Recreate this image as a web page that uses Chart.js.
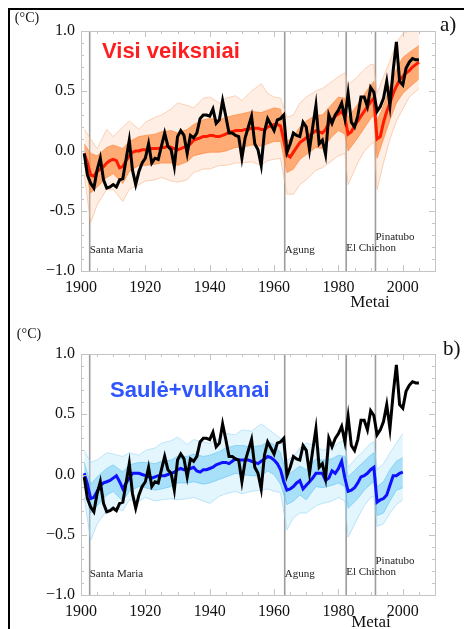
<!DOCTYPE html>
<html>
<head>
<meta charset="utf-8">
<script src="https://cdn.jsdelivr.net/npm/chart.js@4/dist/chart.umd.min.js"></script>
<style>
  body { margin: 0; background: #fff; }
  #frame { position: absolute; left: 8px; top: 8px; width: 456px; height: 621px;
           border-top: 2px solid #000; border-left: 2px solid #000; }
  canvas { position: absolute; left: 0; }
</style>
</head>
<body>
<div id="frame"></div>
<canvas id="chartA" width="464" height="310" style="top:0"></canvas>
<canvas id="chartB" width="464" height="307" style="top:322px"></canvas>
<script>
// years of the annual series
const years = [];
for (let yr = 1901; yr <= 2005; yr++) years.push(yr);
const yearsNat = years.filter(yr => yr <= 2000);

// observed anomaly (black), same in both panels
const observed = [
  -0.02, -0.20, -0.27, -0.31, -0.16, -0.06, -0.24, -0.31, -0.30, -0.28,
  -0.30, -0.24, -0.23, -0.07, 0.09, -0.16, -0.28, -0.17, -0.10, -0.06,
  0.06, -0.10, -0.06, -0.07, 0.04, 0.15, 0.04, 0.01, -0.13, 0.12,
  0.17, 0.13, -0.02, 0.13, 0.11, 0.15, 0.27, 0.30, 0.30, 0.29,
  0.35, 0.23, 0.26, 0.42, 0.29, 0.15, 0.15, 0.13, 0.12, -0.06,
  0.11, 0.20, 0.29, 0.06, 0.01, -0.12, 0.16, 0.27, 0.22, 0.17,
  0.26, 0.27, 0.30, -0.01, 0.06, 0.15, 0.13, 0.12, 0.24, 0.20,
  0.01, 0.20, 0.38, 0.06, 0.09, -0.03, 0.30, 0.23, 0.30, 0.34,
  0.40, 0.27, 0.48, 0.24, 0.20, 0.29, 0.45, 0.45, 0.37, 0.53,
  0.49, 0.33, 0.37, 0.44, 0.58, 0.38, 0.67, 0.91, 0.58, 0.55,
  0.69, 0.74, 0.77, 0.76, 0.76
];

// ensemble mean, all forcings (red)
const meanAll = [
  -0.02, -0.10, -0.20, -0.21, -0.17, -0.15, -0.13, -0.10, -0.08, -0.07,
  -0.08, -0.14, -0.13, -0.08, -0.04, -0.01, 0.00, 0.00, 0.01, 0.01,
  0.01, 0.02, 0.02, 0.02, 0.03, 0.03, 0.04, 0.03, 0.02, 0.01,
  0.02, 0.03, 0.04, 0.06, 0.09, 0.10, 0.11, 0.12, 0.12, 0.13,
  0.13, 0.12, 0.12, 0.13, 0.14, 0.16, 0.16, 0.17, 0.17, 0.17,
  0.18, 0.18, 0.19, 0.19, 0.19, 0.18, 0.18, 0.20, 0.21, 0.22,
  0.22, 0.21, 0.09, -0.03, -0.05, -0.01, 0.03, 0.07, 0.09, 0.11,
  0.13, 0.15, 0.17, 0.16, 0.15, 0.18, 0.23, 0.26, 0.29, 0.31,
  0.33, 0.28, 0.14, 0.16, 0.21, 0.25, 0.29, 0.33, 0.37, 0.41,
  0.44, 0.10, 0.12, 0.24, 0.33, 0.40, 0.48, 0.54, 0.59, 0.62,
  0.65, 0.67, 0.70, 0.72, 0.74
];

// ensemble mean, sun + volcanoes only (blue), 1901-2000
const meanNat = [
  0.01, -0.08, -0.20, -0.19, -0.14, -0.09, -0.07, -0.06, -0.05, -0.03,
  -0.01, -0.06, -0.12, -0.07, -0.03, 0.01, 0.01, 0.01, 0.00, -0.01,
  -0.02, -0.03, -0.02, -0.01, -0.01, -0.01, 0.00, 0.01, 0.02, 0.04,
  0.05, 0.04, 0.04, 0.05, 0.06, 0.03, 0.02, 0.04, 0.04, 0.05,
  0.06, 0.08, 0.09, 0.10, 0.10, 0.09, 0.11, 0.13, 0.12, 0.12,
  0.12, 0.12, 0.11, 0.10, 0.09, 0.11, 0.13, 0.15, 0.14, 0.12,
  0.09, 0.04, -0.06, -0.13, -0.12, -0.10, -0.07, -0.05, -0.12, -0.09,
  -0.06, -0.03, 0.01, 0.01, 0.01, -0.05, -0.03, 0.03, 0.01, 0.05,
  0.11, -0.03, -0.14, -0.13, -0.11, -0.07, -0.02, -0.01, 0.01, 0.04,
  0.06, -0.23, -0.21, -0.20, -0.17, -0.09, -0.01, -0.01, 0.01, 0.02
];

// spread of the individual runs, read at these years
const envYearsA = [1901, 1903, 1905, 1908, 1910, 1913, 1915, 1918, 1920, 1923, 1925, 1928, 1930, 1933, 1935, 1938,
  1940, 1943, 1945, 1948, 1950, 1953, 1956, 1958, 1960, 1962, 1964, 1966, 1968, 1970, 1973, 1975,
  1978, 1980, 1982, 1983, 1986, 1988, 1990, 1991, 1992, 1994, 1996, 1998, 2000, 2002, 2005];
const envYearsB = envYearsA.filter(yr => yr <= 2000);

const runsAllMax = [0.18, 0.10, 0.02, 0.18, 0.12, 0.20, 0.25, 0.18, 0.24, 0.28, 0.30, 0.35, 0.40, 0.38, 0.36, 0.44,
  0.45, 0.40, 0.44, 0.46, 0.42, 0.50, 0.56, 0.48, 0.45, 0.44, 0.28, 0.30, 0.40, 0.45, 0.50, 0.52,
  0.58, 0.62, 0.65, 0.55, 0.62, 0.68, 0.72, 0.72, 0.48, 0.62, 0.75, 0.90, 0.98, 1.00, 1.00];
const runsAllMin = [-0.20, -0.60, -0.45, -0.32, -0.32, -0.42, -0.32, -0.28, -0.25, -0.24, -0.22, -0.25, -0.26, -0.24, -0.18, -0.15,
  -0.15, -0.12, -0.12, -0.10, -0.10, -0.09, -0.12, -0.08, -0.07, -0.06, -0.36, -0.36, -0.28, -0.24, -0.16, -0.14,
  -0.08, -0.04, -0.02, -0.28, -0.10, 0.00, 0.05, 0.08, -0.32, -0.10, 0.10, 0.25, 0.35, 0.45, 0.52];
const runsAllHi = [0.06, -0.02, -0.04, 0.03, 0.05, 0.02, 0.08, 0.12, 0.13, 0.14, 0.16, 0.17, 0.15, 0.18, 0.22, 0.26,
  0.27, 0.26, 0.28, 0.30, 0.31, 0.33, 0.32, 0.34, 0.36, 0.35, 0.08, 0.12, 0.20, 0.25, 0.30, 0.30,
  0.39, 0.45, 0.44, 0.28, 0.39, 0.47, 0.55, 0.58, 0.25, 0.38, 0.54, 0.68, 0.78, 0.82, 0.88];
const runsAllLo = [-0.10, -0.35, -0.30, -0.22, -0.19, -0.27, -0.17, -0.12, -0.12, -0.11, -0.10, -0.10, -0.12, -0.09, -0.04, -0.02,
  -0.01, -0.01, 0.00, 0.03, 0.03, 0.05, 0.04, 0.06, 0.08, 0.08, -0.18, -0.15, -0.07, -0.03, 0.03, 0.02,
  0.12, 0.17, 0.14, 0.00, 0.11, 0.19, 0.27, 0.30, -0.06, 0.10, 0.26, 0.40, 0.48, 0.53, 0.60];

const runsNatMax = [0.20, 0.10, 0.12, 0.18, 0.17, 0.15, 0.18, 0.16, 0.20, 0.22, 0.26, 0.28, 0.31, 0.25, 0.29, 0.27,
  0.26, 0.30, 0.34, 0.33, 0.37, 0.36, 0.42, 0.38, 0.34, 0.30, 0.12, 0.15, 0.22, 0.26, 0.24, 0.20,
  0.22, 0.26, 0.29, 0.06, 0.15, 0.20, 0.26, 0.27, 0.04, 0.09, 0.18, 0.26, 0.34];
const runsNatMin = [-0.19, -0.55, -0.41, -0.30, -0.27, -0.30, -0.21, -0.22, -0.19, -0.22, -0.21, -0.20, -0.21, -0.20, -0.19, -0.22,
  -0.24, -0.18, -0.16, -0.14, -0.16, -0.14, -0.13, -0.12, -0.14, -0.15, -0.46, -0.36, -0.32, -0.32, -0.26, -0.24,
  -0.22, -0.19, -0.22, -0.52, -0.36, -0.26, -0.19, -0.18, -0.43, -0.41, -0.32, -0.25, -0.21];
const runsNatHi = [0.10, -0.08, -0.02, 0.05, 0.08, 0.02, 0.08, 0.10, 0.10, 0.09, 0.11, 0.12, 0.15, 0.15, 0.17, 0.15,
  0.16, 0.19, 0.22, 0.24, 0.24, 0.23, 0.24, 0.27, 0.25, 0.18, -0.01, 0.03, 0.07, 0.04, 0.13, 0.12,
  0.13, 0.16, 0.15, -0.02, 0.06, 0.11, 0.16, 0.18, -0.10, -0.06, 0.04, 0.11, 0.14];
const runsNatLo = [-0.09, -0.32, -0.26, -0.17, -0.14, -0.22, -0.14, -0.10, -0.11, -0.13, -0.12, -0.10, -0.07, -0.07, -0.06, -0.08,
  -0.07, -0.04, -0.02, 0.01, 0.00, -0.01, -0.01, 0.03, 0.00, -0.08, -0.25, -0.22, -0.17, -0.21, -0.10, -0.11,
  -0.09, -0.07, -0.10, -0.28, -0.20, -0.13, -0.08, -0.06, -0.34, -0.32, -0.22, -0.13, -0.11];

// eruptions
const volcanoNames = ['Santa Maria', 'Agung', 'El Chichon', 'Pinatubo'];
const volcanoYears = [1902.7, 1963.3, 1982.4, 1991.5];
const volcanoLabelY = [-0.83, -0.83, -0.81, -0.72];

// axes
const xTickValues = [1900, 1920, 1940, 1960, 1980, 2000];
const yTickValues = [-1, -0.5, 0, 0.5, 1];
const yTickLabelsA = ['\u22121.0', '-0.5', '0.0', '0.5', '1.0'];
const yTickLabelsB = ['\u22121.0', '\u22120.5', '0.0', '0.5', '1.0'];

const SERIF = "'Liberation Serif', 'DejaVu Serif', serif";
const SANS = "'Liberation Sans', Arial, sans-serif";
Chart.defaults.font.family = SERIF;
Chart.defaults.font.size = 16;
Chart.defaults.color = '#111';

function pts(xs, ys) {
  return xs.map((x, i) => ({ x: x, y: ys[i] }));
}

function line(ctx, x1, y1, x2, y2) {
  ctx.beginPath();
  ctx.moveTo(x1, y1);
  ctx.lineTo(x2, y2);
  ctx.stroke();
}

function decorPlugin(p) {
  return {
    id: 'decor',
    beforeDatasetsDraw(chart) {
      const { ctx, chartArea: a, scales: { x } } = chart;
      ctx.save();
      ctx.strokeStyle = '#9c9c9c';
      ctx.lineWidth = 1.6;
      volcanoYears.forEach(v => {
        const px = x.getPixelForValue(v);
        line(ctx, px, a.top, px, a.bottom);
      });
      ctx.restore();
    },
    afterDraw(chart) {
      const { ctx, chartArea: a, scales: { x, y } } = chart;
      ctx.save();

      // plot frame with inward ticks
      ctx.strokeStyle = '#c4c4c4';
      ctx.lineWidth = 1;
      ctx.strokeRect(a.left + 0.5, a.top + 0.5, a.right - a.left, a.bottom - a.top);
      for (let v = 1900; v <= 2010; v += 5) {
        const px = Math.round(x.getPixelForValue(v)) + 0.5;
        const len = v % 20 === 0 ? 6 : 3;
        line(ctx, px, a.bottom, px, a.bottom - len);
        line(ctx, px, a.top, px, a.top + len);
      }
      for (let i = -10; i <= 10; i++) {
        const py = Math.round(y.getPixelForValue(i / 10)) + 0.5;
        const len = i % 5 === 0 ? 6 : 3;
        line(ctx, a.left, py, a.left + len, py);
        line(ctx, a.right, py, a.right - len, py);
      }

      // volcano names
      ctx.fillStyle = '#222';
      ctx.font = '11px ' + SERIF;
      ctx.textAlign = 'left';
      ctx.textBaseline = 'middle';
      volcanoNames.forEach((n, i) => {
        ctx.fillText(n, x.getPixelForValue(volcanoYears[i]), y.getPixelForValue(volcanoLabelY[i]));
      });

      // panel title
      ctx.font = 'bold 22px ' + SANS;
      ctx.fillStyle = p.titleColor;
      ctx.fillText(p.title, p.titleX, p.titleY);

      // unit, panel letter, axis title
      ctx.fillStyle = '#111';
      ctx.font = '14px ' + SERIF;
      ctx.textAlign = 'center';
      ctx.fillText('(\u00b0C)', p.unitX, p.unitY);
      ctx.font = '21px ' + SERIF;
      ctx.textAlign = 'left';
      ctx.fillText(p.letter, p.letterX, p.letterY);
      ctx.font = '17px ' + SERIF;
      ctx.textAlign = 'center';
      ctx.fillText('Metai', p.metaiX, p.metaiY);
      ctx.restore();
    }
  };
}

function makeChart(id, p) {
  const edge = { borderWidth: 1, pointRadius: 0, tension: 0 };
  const datasets = [
    Object.assign({ data: pts(p.envYears, p.outerMax), borderColor: p.outerEdge, fill: false, order: 5 }, edge),
    Object.assign({ data: pts(p.envYears, p.outerMin), borderColor: p.outerEdge, backgroundColor: p.outerFill, fill: '-1', order: 4 }, edge),
    Object.assign({ data: pts(p.envYears, p.innerMax), borderColor: p.innerEdge, fill: false, order: 3 }, edge),
    Object.assign({ data: pts(p.envYears, p.innerMin), borderColor: p.innerEdge, backgroundColor: p.innerFill, fill: '-1', order: 2 }, edge),
    { data: pts(p.meanYears, p.mean), borderColor: p.meanColor, borderWidth: 3, pointRadius: 0, tension: 0, fill: false, order: 1 },
    { data: pts(years, observed), borderColor: '#000', borderWidth: 3, pointRadius: 0, tension: 0, fill: false, order: 0 }
  ];

  const tickFont = { family: SERIF, size: 16 };

  return new Chart(document.getElementById(id), {
    type: 'line',
    data: { datasets },
    options: {
      responsive: false,
      animation: false,
      devicePixelRatio: 1,
      layout: { autoPadding: false, padding: { top: p.padTop, right: 29, left: 0, bottom: 0 } },
      plugins: { legend: { display: false }, tooltip: { enabled: false } },
      scales: {
        x: {
          type: 'linear',
          min: 1900,
          max: 2010,
          grid: { display: false, drawTicks: false },
          border: { display: false },
          afterBuildTicks: s => { s.ticks = xTickValues.map(v => ({ value: v })); },
          afterFit: s => { s.height = p.xAxisHeight; },
          ticks: { color: '#111', padding: 7, font: tickFont, maxRotation: 0, callback: v => String(v) }
        },
        y: {
          min: -1,
          max: 1,
          grid: { display: false, drawTicks: false },
          border: { display: false },
          afterBuildTicks: s => { s.ticks = yTickValues.map(v => ({ value: v })); },
          afterFit: s => { s.width = 81; },
          ticks: { color: '#111', padding: 6, font: tickFont,
                   callback: v => p.yLabels[yTickValues.indexOf(v)] }
        }
      }
    },
    plugins: [decorPlugin(p)]
  });
}

makeChart('chartA', {
  envYears: envYearsA, outerMax: runsAllMax, outerMin: runsAllMin, innerMax: runsAllHi, innerMin: runsAllLo,
  outerEdge: 'rgba(248,175,130,0.55)', outerFill: 'rgba(252,200,165,0.3)',
  innerEdge: 'rgba(255,125,45,0.6)', innerFill: 'rgba(255,130,50,0.62)',
  meanYears: years, mean: meanAll, meanColor: '#ff1a00',
  padTop: 31, xAxisHeight: 39, yLabels: yTickLabelsA,
  title: 'Visi veiksniai', titleColor: '#ff1e1e', titleX: 102, titleY: 52,
  unitX: 27, unitY: 18, letter: 'a)', letterX: 440, letterY: 25, metaiX: 370, metaiY: 303
});

makeChart('chartB', {
  envYears: envYearsB, outerMax: runsNatMax, outerMin: runsNatMin, innerMax: runsNatHi, innerMin: runsNatLo,
  outerEdge: 'rgba(140,210,246,0.55)', outerFill: 'rgba(175,225,250,0.35)',
  innerEdge: 'rgba(95,195,242,0.6)', innerFill: 'rgba(110,203,245,0.5)',
  meanYears: yearsNat, mean: meanNat, meanColor: '#1010ff',
  padTop: 32, xAxisHeight: 34, yLabels: yTickLabelsB,
  title: 'Saul\u0117+vulkanai', titleColor: '#2f55ff', titleX: 110, titleY: 69,
  unitX: 29, unitY: 12, letter: 'b)', letterX: 443, letterY: 27, metaiX: 371, metaiY: 301
});
</script>
</body>
</html>
